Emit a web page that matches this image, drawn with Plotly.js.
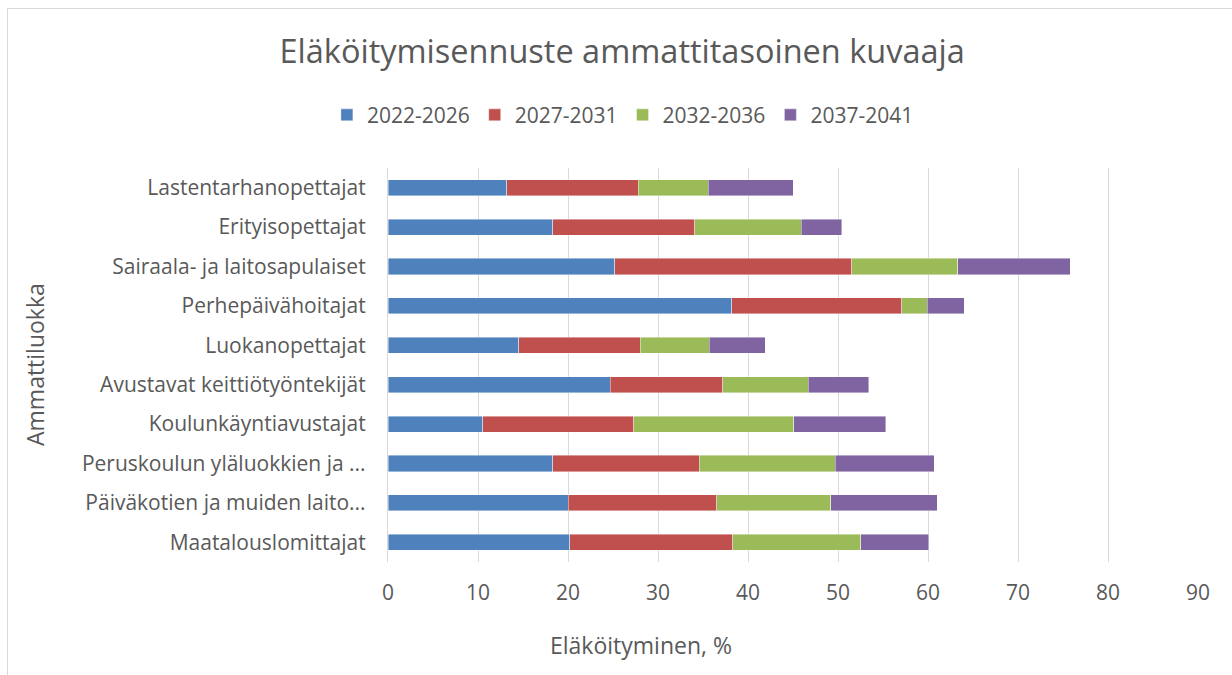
<!DOCTYPE html>
<html>
<head>
<meta charset="utf-8">
<script src="https://cdn.plot.ly/plotly-3.0.1.min.js"></script>
<style>
html,body{margin:0;padding:0;background:#fff;}
#frame{position:absolute;left:7px;top:8px;width:1300px;height:700px;border-left:1px solid #d9d9d9;border-top:1px solid #d9d9d9;pointer-events:none;z-index:5;}
#chart{position:absolute;left:0;top:0;width:1232px;height:675px;}
</style>
</head>
<body>
<div id="chart"></div>
<div id="frame"></div>
<script>
const categories = [
  "Lastentarhanopettajat",
  "Erityisopettajat",
  "Sairaala- ja laitosapulaiset",
  "Perhepäivähoitajat",
  "Luokanopettajat",
  "Avustavat keittiötyöntekijät",
  "Koulunkäyntiavustajat",
  "Peruskoulun yläluokkien ja ...",
  "Päiväkotien ja muiden laito...",
  "Maatalouslomittajat"
];
const seriesNames = ["2022-2026", "2027-2031", "2032-2036", "2037-2041"];
const s2022 = [13.2, 18.3, 25.2, 38.2, 14.5, 24.7, 10.5, 18.3, 20.0, 20.2];
const s2027 = [14.6, 15.8, 26.3, 18.9, 13.5, 12.5, 16.8, 16.3, 16.5, 18.1];
const s2032 = [7.8, 11.8, 11.8, 2.8, 7.7, 9.5, 17.8, 15.1, 12.7, 14.2];
const s2037 = [9.4, 4.5, 12.5, 4.1, 6.2, 6.7, 10.2, 11.0, 11.8, 7.6];
const xTicks = [0, 10, 20, 30, 40, 50, 60, 70, 80, 90];

const colors = ["#4F81BD", "#C0504D", "#9BBB59", "#8064A2"];
const allSeries = [s2022, s2027, s2032, s2037];

const traces = allSeries.map((vals, i) => ({
  type: "bar",
  orientation: "h",
  name: seriesNames[i],
  x: vals,
  y: categories,
  marker: {color: colors[i], line: {color: "rgba(255,255,255,0.6)", width: 0.7}},
  hoverinfo: "x+name"
}));

const fontFam = "'Open Sans', sans-serif";
const layout = {
  width: 1232,
  height: 675,
  barmode: "stack",
  bargap: 0.59,
  paper_bgcolor: "#ffffff",
  plot_bgcolor: "#ffffff",
  font: {family: fontFam, color: "#595959", size: 21},
  margin: {l: 388, r: 34, t: 168, b: 113, pad: 0},
  title: {
    text: "Eläköitymisennuste ammattitasoinen kuvaaja",
    font: {family: fontFam, size: 32.5, color: "#595959"},
    x: 0.505, xanchor: "center",
    y: 0.923, yanchor: "middle"
  },
  showlegend: true,
  legend: {
    orientation: "h",
    x: 0.29, xanchor: "center",
    y: 1.134, yanchor: "middle",
    font: {family: fontFam, size: 21, color: "#595959"},
    traceorder: "normal",
    itemwidth: 30,
    tracegroupgap: 0
  },
  xaxis: {
    range: [0, 90],
    tickvals: xTicks,
    ticktext: xTicks.map(String),
    showgrid: true,
    gridcolor: "#d9d9d9",
    gridwidth: 1.3,
    zeroline: false,
    showline: false,
    ticks: "outside",
    ticklen: 12,
    tickcolor: "rgba(0,0,0,0)",
    tickfont: {family: fontFam, size: 21, color: "#595959"},
    fixedrange: true
  },
  yaxis: {
    autorange: "reversed",
    type: "category",
    showgrid: false,
    zeroline: false,
    showline: true,
    linecolor: "#d9d9d9",
    linewidth: 1.3,
    ticks: "outside",
    ticklen: 17,
    tickcolor: "rgba(0,0,0,0)",
    tickfont: {family: fontFam, size: 21, color: "#595959"},
    fixedrange: true
  },
  annotations: [
    {
      text: "Eläköityminen, %",
      xref: "paper", yref: "paper",
      x: (641 - 388) / 810, y: -(645 - 562) / 394,
      xanchor: "center", yanchor: "middle",
      showarrow: false,
      font: {family: fontFam, size: 23, color: "#595959"}
    },
    {
      text: "Ammattiluokka",
      xref: "paper", yref: "paper",
      x: -(388 - 35) / 810, y: (562 - 365) / 394,
      xanchor: "center", yanchor: "middle",
      textangle: -90,
      showarrow: false,
      font: {family: fontFam, size: 23, color: "#595959"}
    }
  ]
};

Plotly.newPlot("chart", traces, layout, {displayModeBar: false, responsive: false});
</script>
</body>
</html>
